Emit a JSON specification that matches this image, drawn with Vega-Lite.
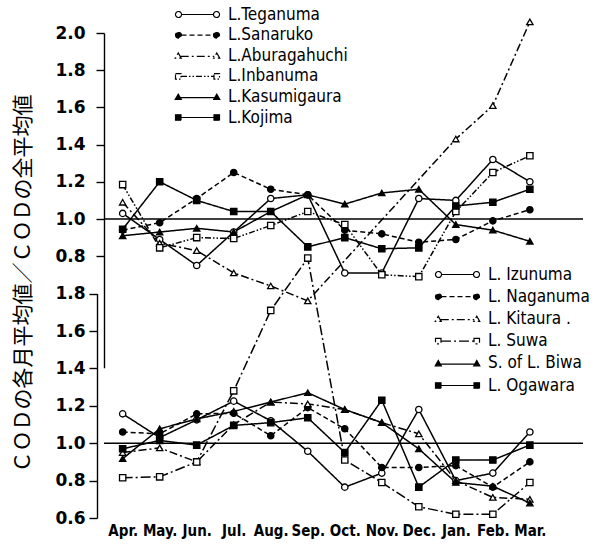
{
  "$schema": "https://vega.github.io/schema/vega-lite/v6.json",
  "width": 479,
  "height": 485,
  "autosize": {"type": "none"},
  "padding": {"left": 104, "top": 33, "right": 20, "bottom": 26},
  "background": "white",
  "config": {"view": {"stroke": null}},
  "datasets": {
    "top": [
      {"lake": "L.Teganuma", "month": "Apr.", "v": 1.03}, {"lake": "L.Teganuma", "month": "May.", "v": 0.89}, {"lake": "L.Teganuma", "month": "Jun.", "v": 0.75}, {"lake": "L.Teganuma", "month": "Jul.", "v": 0.93}, {"lake": "L.Teganuma", "month": "Aug.", "v": 1.11}, {"lake": "L.Teganuma", "month": "Sep.", "v": 1.13}, {"lake": "L.Teganuma", "month": "Oct.", "v": 0.71}, {"lake": "L.Teganuma", "month": "Nov.", "v": 0.71}, {"lake": "L.Teganuma", "month": "Dec.", "v": 1.11}, {"lake": "L.Teganuma", "month": "Jan.", "v": 1.1}, {"lake": "L.Teganuma", "month": "Feb.", "v": 1.32}, {"lake": "L.Teganuma", "month": "Mar.", "v": 1.2},
      {"lake": "L.Sanaruko", "month": "Apr.", "v": 0.94}, {"lake": "L.Sanaruko", "month": "May.", "v": 0.98}, {"lake": "L.Sanaruko", "month": "Jun.", "v": 1.11}, {"lake": "L.Sanaruko", "month": "Jul.", "v": 1.25}, {"lake": "L.Sanaruko", "month": "Aug.", "v": 1.16}, {"lake": "L.Sanaruko", "month": "Sep.", "v": 1.13}, {"lake": "L.Sanaruko", "month": "Oct.", "v": 0.94}, {"lake": "L.Sanaruko", "month": "Nov.", "v": 0.92}, {"lake": "L.Sanaruko", "month": "Dec.", "v": 0.875}, {"lake": "L.Sanaruko", "month": "Jan.", "v": 0.89}, {"lake": "L.Sanaruko", "month": "Feb.", "v": 0.99}, {"lake": "L.Sanaruko", "month": "Mar.", "v": 1.05},
      {"lake": "L.Aburagahuchi", "month": "Apr.", "v": 1.09}, {"lake": "L.Aburagahuchi", "month": "May.", "v": 0.87}, {"lake": "L.Aburagahuchi", "month": "Jun.", "v": 0.83}, {"lake": "L.Aburagahuchi", "month": "Jul.", "v": 0.71}, {"lake": "L.Aburagahuchi", "month": "Aug.", "v": 0.64}, {"lake": "L.Aburagahuchi", "month": "Sep.", "v": 0.56}, {"lake": "L.Aburagahuchi", "month": "Jan.", "v": 1.43}, {"lake": "L.Aburagahuchi", "month": "Feb.", "v": 1.61}, {"lake": "L.Aburagahuchi", "month": "Mar.", "v": 2.06},
      {"lake": "L.Inbanuma", "month": "Apr.", "v": 1.185}, {"lake": "L.Inbanuma", "month": "May.", "v": 0.845}, {"lake": "L.Inbanuma", "month": "Jun.", "v": 0.9}, {"lake": "L.Inbanuma", "month": "Jul.", "v": 0.895}, {"lake": "L.Inbanuma", "month": "Aug.", "v": 0.965}, {"lake": "L.Inbanuma", "month": "Sep.", "v": 1.04}, {"lake": "L.Inbanuma", "month": "Oct.", "v": 0.97}, {"lake": "L.Inbanuma", "month": "Nov.", "v": 0.7}, {"lake": "L.Inbanuma", "month": "Dec.", "v": 0.69}, {"lake": "L.Inbanuma", "month": "Jan.", "v": 1.04}, {"lake": "L.Inbanuma", "month": "Feb.", "v": 1.25}, {"lake": "L.Inbanuma", "month": "Mar.", "v": 1.34},
      {"lake": "L.Kasumigaura", "month": "Apr.", "v": 0.91}, {"lake": "L.Kasumigaura", "month": "May.", "v": 0.93}, {"lake": "L.Kasumigaura", "month": "Jun.", "v": 0.95}, {"lake": "L.Kasumigaura", "month": "Jul.", "v": 0.93}, {"lake": "L.Kasumigaura", "month": "Aug.", "v": 1.04}, {"lake": "L.Kasumigaura", "month": "Sep.", "v": 1.13}, {"lake": "L.Kasumigaura", "month": "Oct.", "v": 1.08}, {"lake": "L.Kasumigaura", "month": "Nov.", "v": 1.14}, {"lake": "L.Kasumigaura", "month": "Dec.", "v": 1.16}, {"lake": "L.Kasumigaura", "month": "Jan.", "v": 0.97}, {"lake": "L.Kasumigaura", "month": "Feb.", "v": 0.94}, {"lake": "L.Kasumigaura", "month": "Mar.", "v": 0.88},
      {"lake": "L.Kojima", "month": "Apr.", "v": 0.945}, {"lake": "L.Kojima", "month": "May.", "v": 1.2}, {"lake": "L.Kojima", "month": "Jun.", "v": 1.1}, {"lake": "L.Kojima", "month": "Jul.", "v": 1.04}, {"lake": "L.Kojima", "month": "Aug.", "v": 1.04}, {"lake": "L.Kojima", "month": "Sep.", "v": 0.85}, {"lake": "L.Kojima", "month": "Oct.", "v": 0.9}, {"lake": "L.Kojima", "month": "Nov.", "v": 0.84}, {"lake": "L.Kojima", "month": "Dec.", "v": 0.845}, {"lake": "L.Kojima", "month": "Jan.", "v": 1.07}, {"lake": "L.Kojima", "month": "Feb.", "v": 1.09}, {"lake": "L.Kojima", "month": "Mar.", "v": 1.16}
    ],
    "bottom": [
      {"lake": "L. Izunuma", "month": "Apr.", "v": 1.157}, {"lake": "L. Izunuma", "month": "May.", "v": 1.03}, {"lake": "L. Izunuma", "month": "Jun.", "v": 1.125}, {"lake": "L. Izunuma", "month": "Jul.", "v": 1.225}, {"lake": "L. Izunuma", "month": "Aug.", "v": 1.12}, {"lake": "L. Izunuma", "month": "Sep.", "v": 0.957}, {"lake": "L. Izunuma", "month": "Oct.", "v": 0.765}, {"lake": "L. Izunuma", "month": "Nov.", "v": 0.84}, {"lake": "L. Izunuma", "month": "Dec.", "v": 1.18}, {"lake": "L. Izunuma", "month": "Jan.", "v": 0.8}, {"lake": "L. Izunuma", "month": "Feb.", "v": 0.84}, {"lake": "L. Izunuma", "month": "Mar.", "v": 1.06},
      {"lake": "L. Naganuma", "month": "Apr.", "v": 1.06}, {"lake": "L. Naganuma", "month": "May.", "v": 1.05}, {"lake": "L. Naganuma", "month": "Jun.", "v": 1.157}, {"lake": "L. Naganuma", "month": "Jul.", "v": 1.16}, {"lake": "L. Naganuma", "month": "Aug.", "v": 1.04}, {"lake": "L. Naganuma", "month": "Sep.", "v": 1.19}, {"lake": "L. Naganuma", "month": "Oct.", "v": 1.077}, {"lake": "L. Naganuma", "month": "Nov.", "v": 0.87}, {"lake": "L. Naganuma", "month": "Dec.", "v": 0.87}, {"lake": "L. Naganuma", "month": "Jan.", "v": 0.88}, {"lake": "L. Naganuma", "month": "Feb.", "v": 0.765}, {"lake": "L. Naganuma", "month": "Mar.", "v": 0.9},
      {"lake": "L. Kitaura .", "month": "Apr.", "v": 0.95}, {"lake": "L. Kitaura .", "month": "May.", "v": 0.975}, {"lake": "L. Kitaura .", "month": "Jun.", "v": 0.9}, {"lake": "L. Kitaura .", "month": "Jul.", "v": 1.1}, {"lake": "L. Kitaura .", "month": "Aug.", "v": 1.22}, {"lake": "L. Kitaura .", "month": "Sep.", "v": 1.21}, {"lake": "L. Kitaura .", "month": "Oct.", "v": 1.18}, {"lake": "L. Kitaura .", "month": "Nov.", "v": 1.11}, {"lake": "L. Kitaura .", "month": "Dec.", "v": 1.05}, {"lake": "L. Kitaura .", "month": "Jan.", "v": 0.8}, {"lake": "L. Kitaura .", "month": "Feb.", "v": 0.71}, {"lake": "L. Kitaura .", "month": "Mar.", "v": 0.7},
      {"lake": "L. Suwa", "month": "Apr.", "v": 0.815}, {"lake": "L. Suwa", "month": "May.", "v": 0.82}, {"lake": "L. Suwa", "month": "Jun.", "v": 0.9}, {"lake": "L. Suwa", "month": "Jul.", "v": 1.28}, {"lake": "L. Suwa", "month": "Aug.", "v": 1.71}, {"lake": "L. Suwa", "month": "Sep.", "v": 1.99}, {"lake": "L. Suwa", "month": "Oct.", "v": 0.91}, {"lake": "L. Suwa", "month": "Nov.", "v": 0.79}, {"lake": "L. Suwa", "month": "Dec.", "v": 0.66}, {"lake": "L. Suwa", "month": "Jan.", "v": 0.62}, {"lake": "L. Suwa", "month": "Feb.", "v": 0.62}, {"lake": "L. Suwa", "month": "Mar.", "v": 0.79},
      {"lake": "S. of L. Biwa", "month": "Apr.", "v": 0.917}, {"lake": "S. of L. Biwa", "month": "May.", "v": 1.077}, {"lake": "S. of L. Biwa", "month": "Jun.", "v": 1.13}, {"lake": "S. of L. Biwa", "month": "Jul.", "v": 1.17}, {"lake": "S. of L. Biwa", "month": "Aug.", "v": 1.22}, {"lake": "S. of L. Biwa", "month": "Sep.", "v": 1.27}, {"lake": "S. of L. Biwa", "month": "Oct.", "v": 1.18}, {"lake": "S. of L. Biwa", "month": "Nov.", "v": 1.11}, {"lake": "S. of L. Biwa", "month": "Dec.", "v": 0.97}, {"lake": "S. of L. Biwa", "month": "Jan.", "v": 0.79}, {"lake": "S. of L. Biwa", "month": "Feb.", "v": 0.77}, {"lake": "S. of L. Biwa", "month": "Mar.", "v": 0.68},
      {"lake": "L. Ogawara", "month": "Apr.", "v": 0.97}, {"lake": "L. Ogawara", "month": "May.", "v": 1.015}, {"lake": "L. Ogawara", "month": "Jun.", "v": 0.99}, {"lake": "L. Ogawara", "month": "Jul.", "v": 1.095}, {"lake": "L. Ogawara", "month": "Aug.", "v": 1.11}, {"lake": "L. Ogawara", "month": "Sep.", "v": 1.136}, {"lake": "L. Ogawara", "month": "Oct.", "v": 0.95}, {"lake": "L. Ogawara", "month": "Nov.", "v": 1.23}, {"lake": "L. Ogawara", "month": "Dec.", "v": 0.765}, {"lake": "L. Ogawara", "month": "Jan.", "v": 0.91}, {"lake": "L. Ogawara", "month": "Feb.", "v": 0.91}, {"lake": "L. Ogawara", "month": "Mar.", "v": 0.99}
    ]
  },
  "layer": [
    {
      "data": {"values": [{"ref": 1}]},
      "mark": {"type": "rule", "color": "black", "strokeWidth": 1.4},
      "encoding": {
        "y": {"field": "ref", "type": "quantitative", "scale": {"domain": [0.2, 2.0], "range": [334.8, 0], "nice": false, "zero": false},
          "axis": {"orient": "left", "values": [0.8, 1.0, 1.2, 1.4, 1.6, 1.8, 2.0], "format": ".1f", "grid": false, "domainColor": "black", "domainWidth": 1.4, "tickColor": "black", "tickSize": 8, "tickWidth": 1.4, "labelPadding": 11, "labelFont": "DejaVu Sans", "labelFontWeight": "bold", "labelFontSize": 17, "labelColor": "black",
            "title": "ＣＯＤの各月平均値／ＣＯＤの全平均値", "titleFont": "Noto Sans CJK JP", "titleFontSize": 21, "titleFontWeight": "normal", "titleColor": "black", "titleAngle": -90, "titleX": -81, "titleY": 250, "titleAlign": "center", "titleBaseline": "middle"}}
      }
    },
    {
      "data": {"values": [{"ref": 1}]},
      "mark": {"type": "rule", "color": "black", "strokeWidth": 1.4},
      "encoding": {
        "y": {"field": "ref", "type": "quantitative", "scale": {"domain": [0.6, 1.8], "range": [485, 260.6], "nice": false, "zero": false},
          "axis": {"orient": "left", "offset": 7, "values": [0.6, 0.8, 1.0, 1.2, 1.4, 1.6, 1.8], "format": ".1f", "grid": false, "domainColor": "black", "domainWidth": 1.4, "tickColor": "black", "tickSize": 8, "tickWidth": 1.4, "labelPadding": 4, "labelFont": "DejaVu Sans", "labelFontWeight": "bold", "labelFontSize": 17, "labelColor": "black", "title": null}}
      }
    },
    {
      "data": {"name": "top"},
      "mark": {"type": "line", "color": "black", "strokeWidth": 1.5},
      "encoding": {
        "x": {"field": "month", "type": "nominal", "scale": {"type": "point", "domain": ["Apr.", "May.", "Jun.", "Jul.", "Aug.", "Sep.", "Oct.", "Nov.", "Dec.", "Jan.", "Feb.", "Mar."], "padding": 0.97, "align": 0.26},
          "axis": {"orient": "bottom", "domain": false, "ticks": false, "grid": false, "labelAngle": 0, "labelFont": "DejaVu Sans Condensed", "labelFontWeight": "bold", "labelFontSize": 15, "labelColor": "black", "labelPadding": 5, "title": null}},
        "y": {"field": "v", "type": "quantitative", "scale": {"domain": [0.2, 2.0], "range": [334.8, 0], "nice": false, "zero": false}, "axis": null},
        "strokeDash": {"field": "lake", "type": "nominal", "scale": {"domain": ["L.Teganuma", "L.Sanaruko", "L.Aburagahuchi", "L.Inbanuma", "L.Kasumigaura", "L.Kojima"], "range": [[1, 0], [5, 3], [8, 3, 2, 3], [6, 2, 1.5, 2, 1.5, 2], [1, 0], [1, 0]]}, "legend": null},
        "order": {"value": null}
      }
    },
    {
      "data": {"name": "top"},
      "mark": {"type": "point", "filled": true, "stroke": "black", "strokeWidth": 1.3, "size": 40, "opacity": 1},
      "encoding": {
        "x": {"field": "month", "type": "nominal", "scale": {"type": "point", "domain": ["Apr.", "May.", "Jun.", "Jul.", "Aug.", "Sep.", "Oct.", "Nov.", "Dec.", "Jan.", "Feb.", "Mar."], "padding": 0.97, "align": 0.26}},
        "y": {"field": "v", "type": "quantitative", "scale": {"domain": [0.2, 2.0], "range": [334.8, 0], "nice": false, "zero": false}, "axis": null},
        "shape": {"field": "lake", "type": "nominal", "scale": {"domain": ["L.Teganuma", "L.Sanaruko", "L.Aburagahuchi", "L.Inbanuma", "L.Kasumigaura", "L.Kojima"], "range": ["circle", "circle", "triangle-up", "square", "triangle-up", "square"]}, "legend": null},
        "fill": {"field": "lake", "type": "nominal", "scale": {"domain": ["L.Teganuma", "L.Sanaruko", "L.Aburagahuchi", "L.Inbanuma", "L.Kasumigaura", "L.Kojima"], "range": ["white", "black", "white", "white", "black", "black"]}, "legend": null}
      }
    },
    {
      "data": {"name": "bottom"},
      "mark": {"type": "line", "color": "black", "strokeWidth": 1.5},
      "encoding": {
        "x": {"field": "month", "type": "nominal", "scale": {"type": "point", "domain": ["Apr.", "May.", "Jun.", "Jul.", "Aug.", "Sep.", "Oct.", "Nov.", "Dec.", "Jan.", "Feb.", "Mar."], "padding": 0.97, "align": 0.26}},
        "y": {"field": "v", "type": "quantitative", "scale": {"domain": [0.6, 1.8], "range": [485, 260.6], "nice": false, "zero": false}, "axis": null},
        "strokeDash": {"field": "lake", "type": "nominal", "scale": {"domain": ["L. Izunuma", "L. Naganuma", "L. Kitaura .", "L. Suwa", "S. of L. Biwa", "L. Ogawara"], "range": [[1, 0], [5, 3], [8, 3, 2, 3], [10, 3, 2, 3], [1, 0], [1, 0]]}, "legend": null},
        "order": {"value": null}
      }
    },
    {
      "data": {"name": "bottom"},
      "mark": {"type": "point", "filled": true, "stroke": "black", "strokeWidth": 1.3, "size": 40, "opacity": 1},
      "encoding": {
        "x": {"field": "month", "type": "nominal", "scale": {"type": "point", "domain": ["Apr.", "May.", "Jun.", "Jul.", "Aug.", "Sep.", "Oct.", "Nov.", "Dec.", "Jan.", "Feb.", "Mar."], "padding": 0.97, "align": 0.26}},
        "y": {"field": "v", "type": "quantitative", "scale": {"domain": [0.6, 1.8], "range": [485, 260.6], "nice": false, "zero": false}, "axis": null},
        "shape": {"field": "lake", "type": "nominal", "scale": {"domain": ["L. Izunuma", "L. Naganuma", "L. Kitaura .", "L. Suwa", "S. of L. Biwa", "L. Ogawara"], "range": ["circle", "circle", "triangle-up", "square", "triangle-up", "square"]}, "legend": null},
        "fill": {"field": "lake", "type": "nominal", "scale": {"domain": ["L. Izunuma", "L. Naganuma", "L. Kitaura .", "L. Suwa", "S. of L. Biwa", "L. Ogawara"], "range": ["white", "black", "white", "white", "black", "black"]}, "legend": null}
      }
    },
    {
      "data": {"name": "top"},
      "transform": [{"filter": "false"}],
      "mark": {"type": "point", "filled": true, "stroke": "black", "strokeWidth": 1.2, "opacity": 1},
      "encoding": {
        "shape": {"field": "lake", "type": "nominal", "scale": {"domain": ["L.Teganuma", "L.Sanaruko", "L.Aburagahuchi", "L.Inbanuma", "L.Kasumigaura", "L.Kojima"], "range": [
          "M -3.2 0 L 3.2 0 M -4.4 0 A 0.6 0.6 0 1 0 -3.2 0 A 0.6 0.6 0 1 0 -4.4 0 Z M 3.2 0 A 0.6 0.6 0 1 0 4.4 0 A 0.6 0.6 0 1 0 3.2 0 Z",
          "M -3.2 0 L 3.2 0 M -4.4 0 A 0.6 0.6 0 1 0 -3.2 0 A 0.6 0.6 0 1 0 -4.4 0 Z M 3.2 0 A 0.6 0.6 0 1 0 4.4 0 A 0.6 0.6 0 1 0 3.2 0 Z",
          "M -3.35 0.15 L 3.35 0.15 M -3.85 -0.55 L -3.25 0.5 L -4.45 0.5 Z M 3.85 -0.55 L 4.45 0.5 L 3.25 0.5 Z",
          "M -3.3 0 L 3.3 0 M -4.4 -0.55 L -3.3 -0.55 L -3.3 0.55 L -4.4 0.55 Z M 3.3 -0.55 L 4.4 -0.55 L 4.4 0.55 L 3.3 0.55 Z",
          "M -3.35 0.15 L 3.35 0.15 M -3.85 -0.55 L -3.25 0.5 L -4.45 0.5 Z M 3.85 -0.55 L 4.45 0.5 L 3.25 0.5 Z",
          "M -3.3 0 L 3.3 0 M -4.4 -0.55 L -3.3 -0.55 L -3.3 0.55 L -4.4 0.55 Z M 3.3 -0.55 L 4.4 -0.55 L 4.4 0.55 L 3.3 0.55 Z"]},
          "legend": {"orient": "none", "legendX": 85, "legendY": -27, "title": null, "labelFont": "DejaVu Sans Condensed", "labelFontSize": 17, "labelColor": "black", "symbolSize": 100, "symbolStrokeColor": "black", "symbolStrokeWidth": 1.2, "symbolOpacity": 1, "rowPadding": 2.6, "labelOffset": 22,
            "encode": {"symbols": {"update": {"stroke": {"value": "black"}, "strokeWidth": {"value": 1.2}, "opacity": {"value": 1}}}}}},
        "fill": {"field": "lake", "type": "nominal", "scale": {"domain": ["L.Teganuma", "L.Sanaruko", "L.Aburagahuchi", "L.Inbanuma", "L.Kasumigaura", "L.Kojima"], "range": ["white", "black", "white", "white", "black", "black"]},
          "legend": {"orient": "none", "legendX": 85, "legendY": -27, "title": null, "labelFont": "DejaVu Sans Condensed", "labelFontSize": 17, "labelColor": "black", "symbolSize": 100, "symbolStrokeColor": "black", "symbolStrokeWidth": 1.2, "symbolOpacity": 1, "rowPadding": 2.6, "labelOffset": 22,
            "encode": {"symbols": {"update": {"stroke": {"value": "black"}, "strokeWidth": {"value": 1.2}, "opacity": {"value": 1}}}}}},
        "strokeDash": {"field": "lake", "type": "nominal", "scale": {"domain": ["L.Teganuma", "L.Sanaruko", "L.Aburagahuchi", "L.Inbanuma", "L.Kasumigaura", "L.Kojima"], "range": [[1, 0], [5, 3], [8, 3, 2, 3], [6, 2, 1.5, 2, 1.5, 2], [1, 0], [1, 0]]},
          "legend": {"orient": "none", "legendX": 85, "legendY": -27, "title": null, "labelFont": "DejaVu Sans Condensed", "labelFontSize": 17, "labelColor": "black", "symbolSize": 100, "symbolStrokeColor": "black", "symbolStrokeWidth": 1.2, "symbolOpacity": 1, "rowPadding": 2.6, "labelOffset": 22,
            "encode": {"symbols": {"update": {"stroke": {"value": "black"}, "strokeWidth": {"value": 1.2}, "opacity": {"value": 1}}}}}}
      }
    },
    {
      "data": {"name": "bottom"},
      "transform": [{"filter": "false"}],
      "mark": {"type": "point", "filled": true, "stroke": "black", "strokeWidth": 1.2, "opacity": 1},
      "encoding": {
        "shape": {"field": "lake", "type": "nominal", "scale": {"domain": ["L. Izunuma", "L. Naganuma", "L. Kitaura .", "L. Suwa", "S. of L. Biwa", "L. Ogawara"], "range": [
          "M -3.2 0 L 3.2 0 M -4.4 0 A 0.6 0.6 0 1 0 -3.2 0 A 0.6 0.6 0 1 0 -4.4 0 Z M 3.2 0 A 0.6 0.6 0 1 0 4.4 0 A 0.6 0.6 0 1 0 3.2 0 Z",
          "M -3.2 0 L 3.2 0 M -4.4 0 A 0.6 0.6 0 1 0 -3.2 0 A 0.6 0.6 0 1 0 -4.4 0 Z M 3.2 0 A 0.6 0.6 0 1 0 4.4 0 A 0.6 0.6 0 1 0 3.2 0 Z",
          "M -3.35 0.15 L 3.35 0.15 M -3.85 -0.55 L -3.25 0.5 L -4.45 0.5 Z M 3.85 -0.55 L 4.45 0.5 L 3.25 0.5 Z",
          "M -3.3 0 L 3.3 0 M -4.4 -0.55 L -3.3 -0.55 L -3.3 0.55 L -4.4 0.55 Z M 3.3 -0.55 L 4.4 -0.55 L 4.4 0.55 L 3.3 0.55 Z",
          "M -3.35 0.15 L 3.35 0.15 M -3.85 -0.55 L -3.25 0.5 L -4.45 0.5 Z M 3.85 -0.55 L 4.45 0.5 L 3.25 0.5 Z",
          "M -3.3 0 L 3.3 0 M -4.4 -0.55 L -3.3 -0.55 L -3.3 0.55 L -4.4 0.55 Z M 3.3 -0.55 L 4.4 -0.55 L 4.4 0.55 L 3.3 0.55 Z"]},
          "legend": {"orient": "none", "legendX": 345, "legendY": 233, "title": null, "labelFont": "DejaVu Sans Condensed", "labelFontSize": 17, "labelColor": "black", "symbolSize": 100, "symbolStrokeColor": "black", "symbolStrokeWidth": 1.2, "symbolOpacity": 1, "rowPadding": 4.2, "labelOffset": 22,
            "encode": {"symbols": {"update": {"stroke": {"value": "black"}, "strokeWidth": {"value": 1.2}, "opacity": {"value": 1}}}}}},
        "fill": {"field": "lake", "type": "nominal", "scale": {"domain": ["L. Izunuma", "L. Naganuma", "L. Kitaura .", "L. Suwa", "S. of L. Biwa", "L. Ogawara"], "range": ["white", "black", "white", "white", "black", "black"]},
          "legend": {"orient": "none", "legendX": 345, "legendY": 233, "title": null, "labelFont": "DejaVu Sans Condensed", "labelFontSize": 17, "labelColor": "black", "symbolSize": 100, "symbolStrokeColor": "black", "symbolStrokeWidth": 1.2, "symbolOpacity": 1, "rowPadding": 4.2, "labelOffset": 22,
            "encode": {"symbols": {"update": {"stroke": {"value": "black"}, "strokeWidth": {"value": 1.2}, "opacity": {"value": 1}}}}}},
        "strokeDash": {"field": "lake", "type": "nominal", "scale": {"domain": ["L. Izunuma", "L. Naganuma", "L. Kitaura .", "L. Suwa", "S. of L. Biwa", "L. Ogawara"], "range": [[1, 0], [5, 3], [8, 3, 2, 3], [10, 3, 2, 3], [1, 0], [1, 0]]},
          "legend": {"orient": "none", "legendX": 345, "legendY": 233, "title": null, "labelFont": "DejaVu Sans Condensed", "labelFontSize": 17, "labelColor": "black", "symbolSize": 100, "symbolStrokeColor": "black", "symbolStrokeWidth": 1.2, "symbolOpacity": 1, "rowPadding": 4.2, "labelOffset": 22,
            "encode": {"symbols": {"update": {"stroke": {"value": "black"}, "strokeWidth": {"value": 1.2}, "opacity": {"value": 1}}}}}}
      }
    }
  ],
  "resolve": {
    "scale": {"y": "independent", "shape": "independent", "fill": "independent", "strokeDash": "independent"},
    "axis": {"y": "independent"}
  }
}
